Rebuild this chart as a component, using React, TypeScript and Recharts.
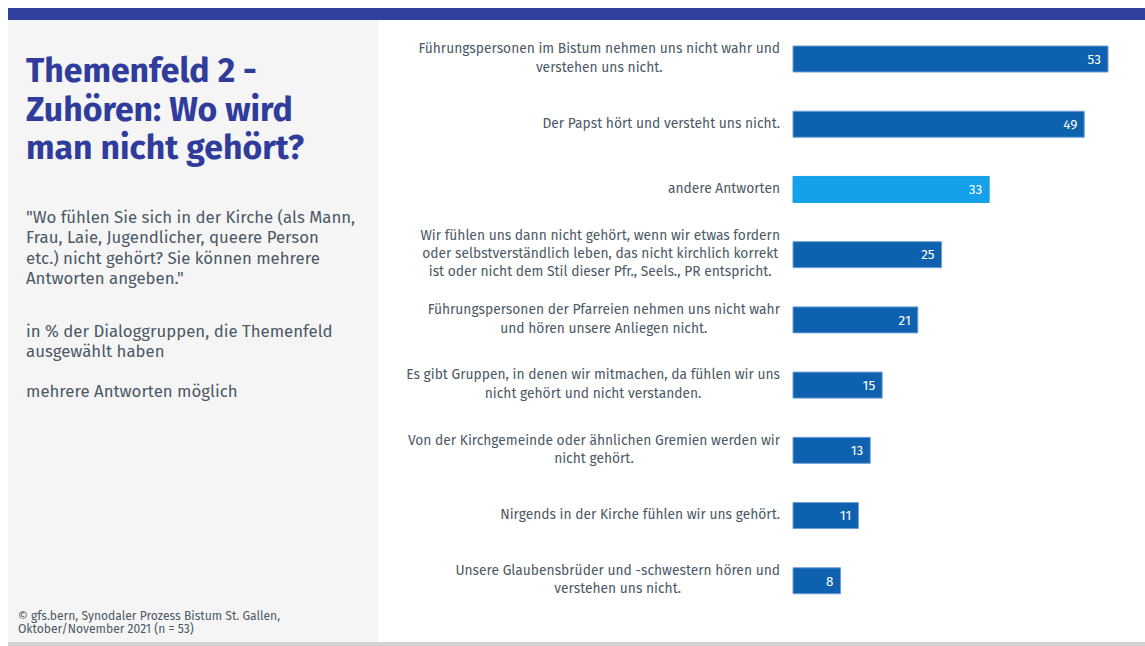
import React from 'react';
import { BarChart, Bar, XAxis, YAxis, Cell, LabelList } from 'recharts';

const answers = [
  'Führungspersonen im Bistum nehmen uns nicht wahr und\nverstehen uns nicht.',
  'Der Papst hört und versteht uns nicht.',
  'andere Antworten',
  'Wir fühlen uns dann nicht gehört, wenn wir etwas fordern\noder selbstverständlich leben, das nicht kirchlich korrekt\nist oder nicht dem Stil dieser Pfr., Seels., PR entspricht.',
  'Führungspersonen der Pfarreien nehmen uns nicht wahr\nund hören unsere Anliegen nicht.',
  'Es gibt Gruppen, in denen wir mitmachen, da fühlen wir uns\nnicht gehört und nicht verstanden.',
  'Von der Kirchgemeinde oder ähnlichen Gremien werden wir\nnicht gehört.',
  'Nirgends in der Kirche fühlen wir uns gehört.',
  'Unsere Glaubensbrüder und -schwestern hören und\nverstehen uns nicht.',
];
const percent = [53, 49, 33, 25, 21, 15, 13, 11, 8];
const highlighted = ['andere Antworten'];

const data = answers.map((name, i) => ({ name, value: percent[i] }));

const FONT = '"Fira Sans", "Noto Sans", sans-serif';
const TEXT = '#4b5865';
const DARK = '#0e61ae';
const LIGHT = '#14a1ea';

const AnswerTick = (props: any) => {
  const { y, payload } = props;
  return (
    <foreignObject x={0} y={y - 40} width={402} height={80}>
      <div
        style={{
          display: 'flex',
          justifyContent: 'flex-end',
          alignItems: 'center',
          height: '100%',
        }}
      >
        <div
          style={{
            textAlign: 'center',
            whiteSpace: 'pre',
            fontFamily: FONT,
            fontSize: 13.8,
            lineHeight: '18.3px',
            color: TEXT,
          }}
        >
          {payload.value}
        </div>
      </div>
    </foreignObject>
  );
};

const block = (top: number, left: number, size: number, lh: number): React.CSSProperties => ({
  position: 'absolute',
  left,
  top,
  fontSize: size,
  lineHeight: `${lh}px`,
  color: TEXT,
  whiteSpace: 'nowrap',
});

const App = () => {
  return (
    <div style={{ position: 'fixed', left: 0, top: 0, width: 1145, height: 646, fontFamily: FONT, background: '#fff' }}>
      <div style={{ position: 'absolute', left: 8, top: 8, width: 1137, height: 12, background: '#313f9d' }} />
      <div style={{ position: 'absolute', left: 8, top: 20, width: 370, height: 622, background: '#f5f5f5' }} />
      <div style={{ position: 'absolute', left: 8, top: 642, width: 1137, height: 4, background: '#d2d3d3' }} />

      <div style={{ ...block(52, 26, 33.8, 38.5), fontWeight: 700, color: '#2f3c9c' }}>
        Themenfeld 2 -<br />
        Zuhören: Wo wird<br />
        man nicht gehört?
      </div>
      <div style={block(207, 26, 16.8, 20.4)}>
        "Wo fühlen Sie sich in der Kirche (als Mann,<br />
        Frau, Laie, Jugendlicher, queere Person<br />
        etc.) nicht gehört? Sie können mehrere<br />
        Antworten angeben."
      </div>
      <div style={block(320.5, 26, 16.8, 20.4)}>
        in % der Dialoggruppen, die Themenfeld<br />
        ausgewählt haben
      </div>
      <div style={block(380.5, 26, 16.8, 20.4)}>mehrere Antworten möglich</div>
      <div style={block(609.5, 18, 12.1, 13.5)}>
        © gfs.bern, Synodaler Prozess Bistum St. Gallen,<br />
        Oktober/November 2021 (n = 53)
      </div>

      <div style={{ position: 'absolute', left: 378, top: 20 }}>
        <BarChart
          width={767}
          height={620}
          data={data}
          layout="vertical"
          margin={{ top: 6, right: 37, left: 0, bottom: 27 }}
        >
          <XAxis type="number" domain={[0, 53]} hide />
          <YAxis
            type="category"
            dataKey="name"
            width={415}
            axisLine={false}
            tickLine={false}
            interval={0}
            tick={<AnswerTick />}
          />
          <Bar dataKey="value" barSize={26} isAnimationActive={false}>
            {data.map((d) => (
              <Cell
                key={d.name}
                fill={highlighted.includes(d.name) ? LIGHT : DARK}
                stroke={highlighted.includes(d.name) ? LIGHT : '#6d9fd6'}
                strokeWidth={1}
              />
            ))}
            <LabelList
              dataKey="value"
              position="insideRight"
              offset={7}
              fill="#ffffff"
              fontSize={13.5}
              fontFamily={FONT}
            />
          </Bar>
        </BarChart>
      </div>
    </div>
  );
};

export default App;
